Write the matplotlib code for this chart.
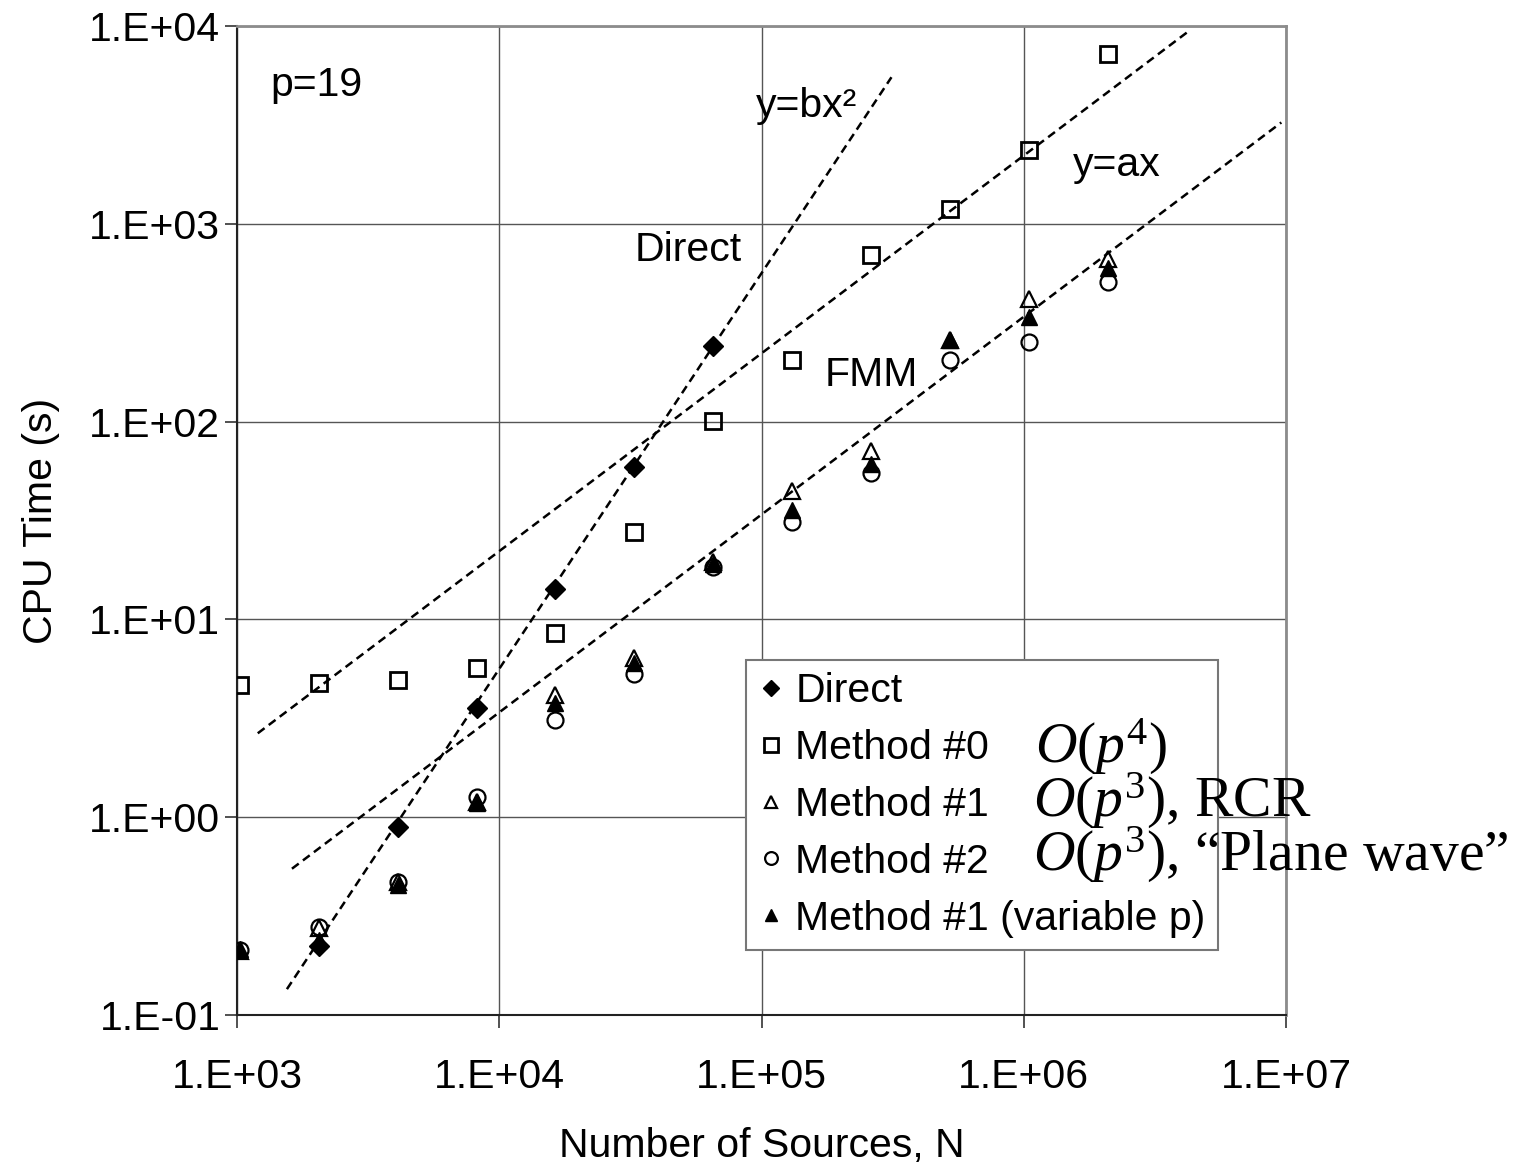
import numpy as np
import matplotlib
matplotlib.use("Agg")
import matplotlib.pyplot as plt
from matplotlib.ticker import FixedLocator, FuncFormatter, NullLocator

plt.rcParams['font.family'] = ['Liberation Sans', 'DejaVu Sans']
plt.rcParams['mathtext.fontset'] = 'custom'
plt.rcParams['mathtext.rm'] = 'Liberation Serif'
plt.rcParams['mathtext.it'] = 'Liberation Serif:italic'

# ---------------- data ----------------
N = [1024, 2048, 4096, 8192, 16384, 32768, 65536, 131072, 262144,
     524288, 1048576, 2097152]
direct_N = [2048, 4096, 8192, 16384, 32768, 65536]
direct_t = [0.222, 0.897, 3.56, 14.3, 58.7, 240]
m0_t = [4.68, 4.75, 4.92, 5.69, 8.58, 27.8, 101, 204, 694, 1186, 2358, 7218]
m1_t = [0.21, 0.275, 0.47, 1.2, 4.16, 6.41, 19.5, 44.5, 70.9, 260, 415, 662]
m2_t = [0.213, 0.279, 0.473, 1.26, 3.09, 5.32, 18.3, 30.9, 55.1, 206, 254, 508]
m1v_t = [0.215, 0.240, 0.455, 1.18, 3.79, 6.04, 19.0, 35.9, 60.7, 260, 336, 601]

# trend lines: y = coef * x^power over [x_start, x_end]
fit_direct = dict(coef=10**-7.25, power=2, x_range=[1550, 3.13e5])
fit_m0 = dict(coef=10**-2.655, power=1, x_range=[1200, 4.33e6])
fit_fmm = dict(coef=10**-3.47, power=1, x_range=[1620, 9.6e6])

legend_labels = ["Direct", "Method #0", "Method #1", "Method #2",
                 "Method #1 (variable p)"]
x_ticks = [1e3, 1e4, 1e5, 1e6, 1e7]
y_ticks = [1e-1, 1e0, 1e1, 1e2, 1e3, 1e4]

# ---------------- figure ----------------
W, H = 1517, 1162
fig = plt.figure(figsize=(W / 100, H / 100), dpi=100)
ax = fig.add_axes([237 / W, 1 - 1015 / H, (1286 - 237) / W, (1015 - 26) / H])
ax.set_xscale('log')
ax.set_yscale('log')
ax.set_xlim(1e3, 1e7)
ax.set_ylim(1e-1, 1e4)

FS = 29.5
ax.xaxis.set_major_locator(FixedLocator(x_ticks))
ax.yaxis.set_major_locator(FixedLocator(y_ticks))
ax.xaxis.set_minor_locator(NullLocator())
ax.yaxis.set_minor_locator(NullLocator())
fmt = FuncFormatter(lambda v, p: "1.E%+03d" % int(round(np.log10(v))))
ax.xaxis.set_major_formatter(fmt)
ax.yaxis.set_major_formatter(fmt)
ax.tick_params(axis='both', which='major', labelsize=FS, length=9,
               width=1.2, color='#333333', direction='out')
ax.tick_params(axis='x', pad=22)
ax.tick_params(axis='y', pad=3)

ax.grid(True, which='major', color='#555555', linewidth=1.0)
ax.set_axisbelow(True)
for s in ['left', 'bottom']:
    ax.spines[s].set_color('#222222')
    ax.spines[s].set_linewidth(1.5)
for s in ['top', 'right']:
    ax.spines[s].set_color('#8c8c8c')
    ax.spines[s].set_linewidth(2.0)

dash = (0, (3.4, 2.1))
for f in (fit_direct, fit_m0, fit_fmm):
    xs = np.array(f['x_range'], dtype=float)
    ax.plot(xs, f['coef'] * xs ** f['power'], color='black', lw=1.8,
            linestyle=dash, zorder=3)

h0, = ax.plot(N, m0_t, linestyle='none', marker='s', ms=12, mfc='none',
              mec='black', mew=2.0, zorder=4)
h1, = ax.plot(N, m1_t, linestyle='none', marker='^', ms=11.5, mfc='none',
              mec='black', mew=1.6, zorder=4)
h2, = ax.plot(N, m2_t, linestyle='none', marker='o', ms=11.5, mfc='none',
              mec='black', mew=1.6, zorder=5)
h3, = ax.plot(N, m1v_t, linestyle='none', marker='^', ms=11.5, mfc='black',
              mec='black', mew=1.0, zorder=6)
hd, = ax.plot(direct_N, direct_t, linestyle='none', marker='D', ms=10,
              mfc='black', mec='black', mew=1.0, zorder=7)

leg = ax.legend([hd, h0, h1, h2, h3], legend_labels, loc='upper left',
                bbox_to_anchor=((746 - 237) / 1049, (1015 - 660) / 989),
                fontsize=FS, frameon=True, fancybox=False, framealpha=1,
                edgecolor='#777777', markerscale=0.8, borderpad=0.3,
                handlelength=0.6, handletextpad=0.3, labelspacing=0.46,
                borderaxespad=0, numpoints=1)
leg.get_frame().set_linewidth(1.5)
leg.set_zorder(10)

# annotations
ax.text(1337, 4430, "p=19", fontsize=FS, ha='left', va='baseline')
ax.text(9.48e4, 3460, "y=bx\u00b2", fontsize=FS, ha='left', va='baseline')
ax.text(3.27e4, 647, "Direct", fontsize=FS, ha='left', va='baseline')
ax.text(1.74e5, 152, "FMM", fontsize=FS, ha='left', va='baseline')
ax.text(1.54e6, 1742, "y=ax", fontsize=FS, ha='left', va='baseline')

TFS = 41.5
serif = ['Liberation Serif', 'DejaVu Serif']
fig.text(1035 / W, 1 - 763 / H, r"$O(p^4)$", fontsize=TFS, family=serif,
         ha='left', va='baseline', zorder=20)
fig.text(1033 / W, 1 - 817 / H, r"$O(p^3)$, RCR", fontsize=TFS,
         family=serif, ha='left', va='baseline', zorder=20)
fig.text(1033 / W, 1 - 871 / H, "$O(p^3)$, \u201cPlane wave\u201d",
         fontsize=TFS, family=serif, ha='left', va='baseline', zorder=20)

ax.set_xlabel("Number of Sources, N", fontsize=FS, labelpad=22)
ax.set_ylabel("CPU Time (s)", fontsize=FS, labelpad=21)

fig.savefig("out.png", dpi=100)
